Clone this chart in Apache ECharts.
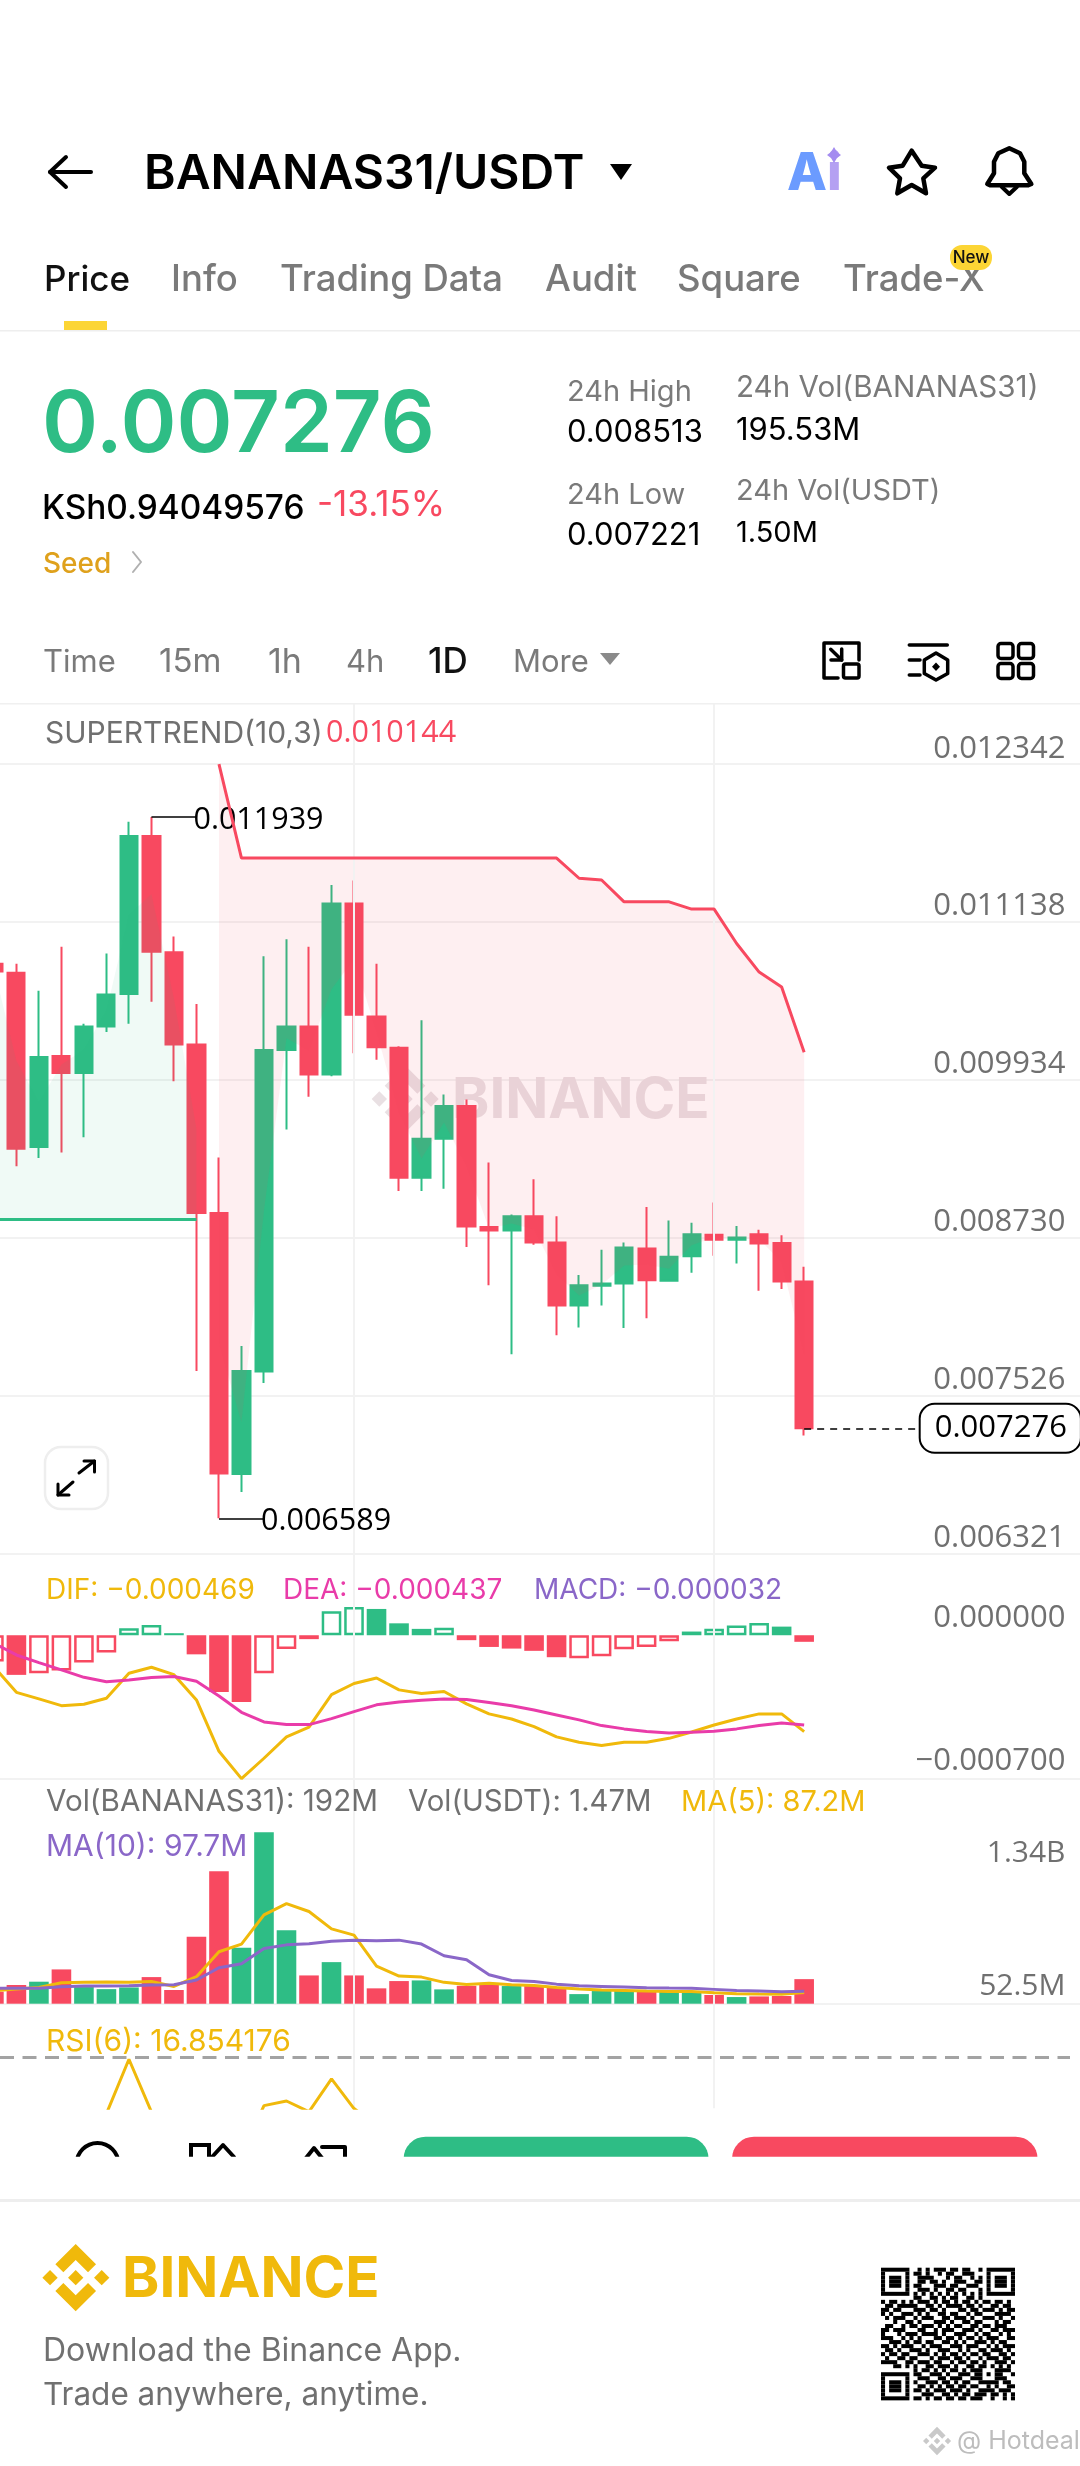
<!DOCTYPE html>
<html><head><meta charset="utf-8">
<style>html,body{margin:0;padding:0;background:#fff;width:1080px;height:2466px;overflow:hidden}#c{position:absolute;left:-18px;top:0;width:1108px;height:2466px}</style>
<script src="https://cdn.jsdelivr.net/npm/echarts@6/dist/echarts.min.js"></script>
</head><body><div id="c"></div>
<script>
const GREEN='#2EBD85', RED='#F84960', YEL='#F0B90B', PINK='#E93CA9', PUR='#8A67C8', GRAY='#707070', LINE='#F2F2F2';
const FAM='Inter', NUM='"Open Sans"';

// Daily slots: 36 visible candles plus empty room on the right
const categories=['D-36','D-35','D-34','D-33','D-32','D-31','D-30','D-29','D-28','D-27','D-26','D-25','D-24','D-23','D-22','D-21','D-20','D-19','D-18','D-17','D-16','D-15','D-14','D-13','D-12','D-11','D-10','D-9','D-8','D-7','D-6','D-5','D-4','D-3','D-2','D-1','D0','+1','+2','+3','+4','+5','+6','+7','+8','+9','+10','+11','+12'];

const openP=[0.010819,0.010752,0.009421,0.010116,0.009986,0.010342,0.010589,0.011794,0.010907,0.010204,0.008919,0.006928,0.007710,0.010162,0.010342,0.009974,0.011279,0.010417,0.010179,0.009187,0.009484,0.009735,0.008811,0.008785,0.008894,0.008693,0.008212,0.008363,0.008380,0.008647,0.008401,0.008589,0.008752,0.008714,0.008756,0.008689,0.008396];
const closeP=[0.010760,0.009409,0.010108,0.009986,0.010342,0.010585,0.011794,0.010911,0.010204,0.008919,0.006932,0.007714,0.010162,0.010342,0.009974,0.011279,0.010430,0.010183,0.009187,0.009484,0.009735,0.008815,0.008785,0.008894,0.008693,0.008212,0.008367,0.008380,0.008656,0.008405,0.008585,0.008756,0.008714,0.008731,0.008685,0.008396,0.007276];
const lowP=[0.010760,0.009275,0.009338,0.009380,0.009497,0.010300,0.010363,0.010530,0.009924,0.007714,0.006589,0.006790,0.007622,0.009555,0.009806,0.009961,0.010137,0.010087,0.009087,0.009087,0.009103,0.008660,0.008367,0.007840,0.008677,0.007986,0.008045,0.008212,0.008041,0.008116,0.008401,0.008463,0.008593,0.008534,0.008325,0.008338,0.007221];
const highP=[0.010819,0.010819,0.010614,0.010949,0.010363,0.010898,0.011903,0.011939,0.011028,0.010513,0.009342,0.007903,0.010877,0.011007,0.010949,0.011421,0.011455,0.010819,0.010191,0.010388,0.009823,0.009785,0.009304,0.008907,0.009175,0.008894,0.008446,0.008639,0.008693,0.008965,0.008861,0.008844,0.008999,0.008819,0.008790,0.008748,0.008509];

const supertrendDown=[null,null,null,null,null,null,null,null,null,null,0.012342,0.011626,0.011626,0.011626,0.011626,0.011626,0.011626,0.011626,0.011626,0.011626,0.011626,0.011626,0.011626,0.011626,0.011626,0.011626,0.011472,0.011459,0.011292,0.011292,0.011292,0.011237,0.011237,0.010974,0.010756,0.010643,0.010144];
const supertrendUp=[0.008869,0.008869,0.008869,0.008869,0.008869,0.008869,0.008869,0.008869,0.008869,0.008869];
const bodyMid=[0.010790,0.010080,0.009764,0.010051,0.010164,0.010463,0.011191,0.011352,0.010555,0.009561,0.007925,0.007321,0.008936,0.010252,0.010158,0.010626,0.010854,0.010300,0.009683,0.009335,0.009609,0.009275,0.008798,0.008839,0.008793,0.008452,0.008289,0.008371,0.008518,0.008526,0.008493,0.008672,0.008733,0.008722,0.008720,0.008542,0.007835];

const macdHist=[-0.000128,-0.000193,-0.000185,-0.000172,-0.000133,-0.000084,0.000034,0.000050,0.000010,-0.000093,-0.000276,-0.000325,-0.000185,-0.000067,-0.000019,0.000117,0.000138,0.000128,0.000058,0.000031,0.000037,-0.000024,-0.000057,-0.000065,-0.000076,-0.000107,-0.000112,-0.000102,-0.000068,-0.000057,-0.000029,0.000018,0.000031,0.000047,0.000060,0.000042,-0.000032];
const macdHollow=[1,0,1,1,1,1,1,1,0,0,0,0,1,1,0,1,1,0,0,0,1,0,0,0,0,0,1,1,1,1,1,0,1,1,1,0,0];
const dif=[-0.000154,-0.000278,-0.000310,-0.000343,-0.000336,-0.000307,-0.000185,-0.000156,-0.000192,-0.000315,-0.000565,-0.000698,-0.000599,-0.000495,-0.000447,-0.000289,-0.000235,-0.000208,-0.000266,-0.000284,-0.000274,-0.000334,-0.000383,-0.000408,-0.000445,-0.000495,-0.000521,-0.000537,-0.000521,-0.000521,-0.000502,-0.000471,-0.000437,-0.000408,-0.000383,-0.000383,-0.000469];
const dea=[-0.000039,-0.000096,-0.000133,-0.000169,-0.000205,-0.000226,-0.000218,-0.000206,-0.000201,-0.000224,-0.000296,-0.000375,-0.000422,-0.000435,-0.000435,-0.000406,-0.000372,-0.000339,-0.000325,-0.000317,-0.000310,-0.000313,-0.000328,-0.000343,-0.000364,-0.000388,-0.000412,-0.000440,-0.000456,-0.000469,-0.000476,-0.000472,-0.000468,-0.000456,-0.000440,-0.000427,-0.000437];

// Volume in millions
const volM=[94,146,172,268,130,114,127,208,107,523,1035,437,1340,575,221,325,221,120,177,182,112,140,146,138,138,127,75,99,101,94,94,99,68,52,57,60,192];
const ma5M=[101,114,127,164,167,169,167,174,135,211,406,466,695,783,721,585,536,294,216,208,167,151,159,148,143,127,114,107,104,99,96,96,86,78,75,73,87.2];
const ma10M=[120,120,120,133,138,138,140,146,148,185,281,312,432,460,468,489,497,492,497,466,375,343,226,182,174,153,140,135,130,125,122,120,112,104,99,94,97.7];

// Only the part above the panel's lower edge shows in the picture; the rest is estimated
const rsi6=[40,38,39,41,43,46.8,69.2,47.5,44,32,22,30,50.1,52,47.6,61.1,48.9,42,36,38,42,36,36,40,37,33,35,36,40,38,41,44,43,44,42,38,16.85];

const priceTicks=[0.012342,0.011138,0.009934,0.008730,0.007526,0.006321];
const macdTicks=[0,-0.0007];
const volTicks=[1340,52.5];

const qrRows=[
'111111100101011101101100101111111','100000101101001011001110001000001','101110100111100010110010101011101',
'101110100110110100111001101011101','101110101100011101100111001011101','100000100111010011011000101000001',
'111111101010101010101010101111111','000000001100110101100110100000000','101101010111010110101101011011010',
'011011111001101011110110100110110','110110001110110100011011011101011','101001110101001101100101100011110',
'010111001011100110111010011101001','000100110100011101001101100010110','011001011011101010110011011011100',
'110111000110010111001110100110111','100010111011110100111001011001010','111001010100011011010110101110011',
'001110101101100110101001110101100','110101110010111001110111001010111','011010011101001110010100110111010',
'101101100111010101101011011001101','010011011000101110110100101110110','111100110111011001011011010011101',
'000110101001101110100110110101010','000000001011010101101011100011110','111111101100111010011101101011001',
'100000100111001101110011100011100','101110101001110110101100111110110','101110100110101011011011001010011',
'101110101101011101110100111101110','100000100011100110101101110110101','111111101101011011011011100100101'];

/* ---------- page furniture helpers ---------- */
const OFF=18; // the canvas starts left of the window so the first candle can be cut by the edge
const G=[];
function T(x,y,text,size,fill,weight,align,z,fam){G.push({type:'text',x,y:y+3.5,silent:true,z:z==null?50:z,style:{text,fill,font:`${weight||400} ${size}px ${fam||FAM}`,textAlign:align||'left',textVerticalAlign:'middle'}});}
function PL(points,stroke,w,closed,z){G.push({type:closed?'polygon':'polyline',silent:true,z:z||50,shape:{points},style:{stroke,fill:closed?'rgba(0,0,0,0)':null,lineWidth:w,lineJoin:'round',lineCap:'round'}});}
function PG(points,fill,z){G.push({type:'polygon',silent:true,z:z||50,shape:{points},style:{fill}});}
function R(x,y,w,h,fill,r,z,stroke,lw){G.push({type:'rect',silent:true,z:z||50,shape:{x,y,width:w,height:h,r:r||0},style:{fill:fill||'rgba(0,0,0,0)',stroke:stroke||null,lineWidth:lw||0}});}
function logo(cx,cy,s,fill,z){
  const p=a=>a.map(q=>[cx+(q[0]-137)/3*s,cy+(q[1]-113)/3*s]);
  [[[137,12],[198,73],[174,97],[137,60],[100,97],[76,73]],[[137,214],[198,153],[174,129],[137,166],[100,129],[76,153]],
   [[37,113],[60,90],[83,113],[60,136]],[[192,113],[215,90],[238,113],[215,136]],[[114,113],[137,90],[160,113],[137,136]]]
   .forEach(a=>PG(p(a),fill,z));
}

// top bar
PL([[91,172],[50,172]],'#000',4); PL([[66,157],[50,172],[66,187]],'#000',4);
T(144,171.5,'BANANAS31/USDT',48,'#000',600);
PG([[610,164],[632,164],[621,180]],'#000');
T(787,170.5,'A',52,'#6B9BFF',800);
T(827,170.5,'i',52,'#B4A0F2',800);
PG([[834,147],[837,152],[841,155],[837,158],[834,163],[831,158],[827,155],[831,152]],'#A48CF0');
PL([[911.7,150.7],[921.7,165.7],[935,167.7],[923.3,178.3],[926,193.3],[911.7,185],[897.3,193.3],[900,178.3],[889,167.7],[902.7,165.7]],'#000',4.5,true);
PL([[987.3,184],[994,173.3],[994,161.7],[998.3,153.3],[1009.3,148.3],[1020,153.3],[1024.3,161.7],[1024.3,173.3],[1031.3,184],[1028.3,185.3],[990,185.3]],'#000',4.5,true);
PL([[1001.7,186.7],[1009.3,194],[1017,186.7]],'#000',4);

// tabs
T(44,277,'Price',35,'#111',500);
T(171,277,'Info',36.5,'#7A7A7A',500);
T(280,277,'Trading Data',36.5,'#7A7A7A',500);
T(545,277,'Audit',36.5,'#7A7A7A',500);
T(677,277,'Square',36.5,'#7A7A7A',500);
T(843,277,'Trade-X',36.5,'#7A7A7A',500);
R(950,245,42,25,'#FCD535',12);
T(971,254,'New',17,'#111',500,'center');
R(64,321,43,9,'#FCD535');
R(0,330,1080,1.5,'#EEEEEE');

// price block
T(42,423,'0.007276',85,GREEN,600);
T(42,505,'KSh0.94049576',33.4,'#000',500);
T(317,502,'-13.15%',35,RED,400);
T(43,561,'Seed',28,'#DFA11C',500);
PL([[133,552],[141,562],[133,572]],'#B0B0B0',2);
T(567,389,'24h High',29,'#7A7A7A');
T(567,429,'0.008513',31,'#000');
T(736,384.5,'24h Vol(BANANAS31)',29.6,'#7A7A7A');
T(736,427,'195.53M',31,'#000');
T(567,492,'24h Low',29,'#7A7A7A');
T(567,532,'0.007221',31,'#000');
T(736,487.5,'24h Vol(USDT)',29,'#7A7A7A');
T(736,530,'1.50M',29,'#000');

// interval row
T(43,659,'Time',31,'#7A7A7A');
T(159,659,'15m',33,'#7A7A7A');
T(268,659,'1h',34,'#7A7A7A');
T(346,659,'4h',31,'#7A7A7A');
T(428,659,'1D',35,'#111',500);
T(513,659,'More',31,'#7A7A7A');
PG([[600,653],[620,653],[610,665]],'#8A8A8A');
PL([[859,660],[859,643],[824,643],[824,678],[838,678]],'#000',3.5);
R(843.5,664,15.5,14,null,2,50,'#000',3.5);
PL([[830.7,649.3],[841.7,660]],'#000',3.5); PL([[841.7,649],[841.7,660],[831,660]],'#000',3.5);
PL([[909.3,645],[947.3,645]],'#000',3.5); PL([[909.3,660],[920,660]],'#000',3.5); PL([[909.3,675],[920,675]],'#000',3.5);
PL([[936,653],[947.7,660],[947.7,673.4],[936,680],[924.3,673.4],[924.3,660]],'#000',3.5,true);
PG([[936,662.5],[940,666.7],[936,671],[932,666.7]],'#000');
[[998,643.5],[1018.5,643.5],[998,663.5],[1018.5,663.5]].forEach(p=>R(p[0],p[1],15,15,null,3,50,'#000',3.5));
R(0,703,1080,1.5,'#F0F0F0');

// panel captions
T(45,730,'SUPERTREND(10,3)',30,GRAY);
T(326,730,'0.010144',30.5,RED,400,'left',50,NUM);
T(46,1587,'DIF: −0.000469',28,YEL);
T(283,1587,'DEA: −0.000437',28,PINK);
T(534,1587,'MACD: −0.000032',28,PUR);
T(46,1799,'Vol(BANANAS31): 192M',29.6,GRAY);
T(408,1799,'Vol(USDT): 1.47M',29.3,GRAY);
T(681,1799,'MA(5): 87.2M',29,YEL);
T(46,1843,'MA(10): 97.7M',30,PUR);
T(46,2038,'RSI(6): 16.854176',30,YEL);

// expand button
R(45,1447,63,62,'#fff',16,50,'#EEEEEE',2.5);
PL([[58,1495],[73,1482]],'#000',3); PL([[58,1484],[58,1495],[69,1495]],'#000',3);
PL([[79,1473],[94.5,1461]],'#000',3); PL([[84,1461],[94.5,1461],[94.5,1472]],'#000',3);

// cropped action row
G.push({type:'circle',silent:true,z:50,shape:{cx:97.5,cy:2164,r:21},style:{stroke:'#000',lineWidth:4,fill:'rgba(0,0,0,0)'}});
R(191,2145,18,20,null,0,50,'#000',4);
PL([[212,2157],[223,2145],[234,2157]],'#000',4);
PL([[306,2158],[314,2148],[322,2158]],'#000',4);
PL([[322,2147],[345,2147],[345,2158]],'#000',4);
R(403.6,2136.7,305,40,GREEN,[22,22,0,0]);
R(732,2136.7,305.6,40,RED,[22,22,0,0]);
R(0,2156.7,1080,42,'#fff',0,60);

// footer
R(0,2199,1080,3,'#EEEEEE',0,61);
logo(75.7,2277.7,1,YEL);
T(122,2277,'BINANCE',56.5,YEL,700);
T(43,2348,'Download the Binance App.',32,GRAY);
T(43,2392,'Trade anywhere, anytime.',31.5,GRAY);
qrRows.forEach((row,r)=>{let c=0;while(c<row.length){if(row[c]==='1'){let e=c;while(row[e+1]==='1')e++;R(881+c*4.06,2267.7+r*4.02,(e-c+1)*4.06,4.02,'#000');c=e+1;}else c++;}});
logo(937,2441,0.42,'#C9C9C9');
T(957,2438,'@ Hotdeal',25,'#BDBDBD');

// watermark sits behind the candles
logo(405,1099,1,'#E9E0E3',1);
T(452,1098,'BINANCE',56.5,'#E9E0E3',700,'left',1);

/* ---------- chart ---------- */
const L=0.65, W=1102.84;
const grids=[
 {left:L,width:W,top:704,height:1404.3},     // vertical guides
 {left:L,width:W,top:764.2,height:789.3},    // price
 {left:L,width:W,top:1553.5,height:225.5},   // macd
 {left:L,width:W,top:1832.3,height:171.4},   // volume
 {left:L,width:W,top:2003.7,height:104.6}    // rsi
];
const xAxis=grids.map((g,i)=>({type:'category',gridIndex:i,data:categories,boundaryGap:true,show:i===2||i===3,
  axisLine:{show:true,onZero:false,lineStyle:{color:LINE,width:2}},axisTick:{show:false},axisLabel:{show:false},splitLine:{show:false}}));
const tickLabel={inside:true,margin:20,color:GRAY,fontFamily:NUM,fontSize:31,verticalAlign:'bottom'};
const yAxis=[
 {gridIndex:0,type:'value',min:0,max:1,show:false},
 {gridIndex:1,type:'value',position:'right',min:0.006321,max:0.012342,scale:true,axisLine:{show:false},
  axisTick:{show:false,customValues:priceTicks},splitLine:{show:true,lineStyle:{color:LINE,width:2}},
  axisLabel:{...tickLabel,customValues:priceTicks,formatter:v=>v.toFixed(6)}},
 {gridIndex:2,type:'value',position:'right',min:-0.0007,max:0.000398,axisLine:{show:false},
  axisTick:{show:false,customValues:macdTicks},splitLine:{show:false},
  axisLabel:{...tickLabel,padding:[0,0,2,0],customValues:macdTicks,formatter:v=>(v<0?'−':'')+Math.abs(v).toFixed(6)}},
 {gridIndex:3,type:'value',position:'right',min:0,max:1340,axisLine:{show:false},
  axisTick:{show:false,customValues:volTicks},splitLine:{show:false},
  axisLabel:{inside:true,margin:20,customValues:volTicks,verticalAlign:'middle',
   formatter:v=>v>=1000?'{a|'+(v/1000).toFixed(2)+'B}':'{b|'+v.toFixed(1)+'M}',
   rich:{a:{color:GRAY,fontFamily:NUM,fontSize:30,padding:[42,0,0,0]},b:{color:GRAY,fontFamily:NUM,fontSize:30,padding:[0,0,22,0]}}}},
 {gridIndex:4,type:'value',min:49,max:92.06,show:false}
];
const candleData=openP.map((o,i)=>[o,closeP[i],lowP[i],highP[i]]);
const isUp=i=>closeP[i]>=openP[i];
const lastIdx=openP.length-1;
const noSym={showSymbol:false,symbol:'none',silent:true};
const peakLabel={show:true,position:'end',distance:-3,color:'#000',fontFamily:NUM,fontSize:30.5,offset:[0,3]};
const series=[
 {type:'line',name:'guides',xAxisIndex:0,yAxisIndex:0,z:1,...noSym,data:categories.map(()=>null),
  markLine:{silent:true,symbol:['none','none'],label:{show:false},lineStyle:{color:LINE,width:2,type:'solid'},data:[{xAxis:16},{xAxis:32}]}},
 {type:'candlestick',name:'price',xAxisIndex:1,yAxisIndex:1,z:3,silent:true,barWidth:17.6,data:candleData,
  itemStyle:{color:GREEN,color0:RED,borderColor:GREEN,borderColor0:RED,borderWidth:2},
  markLine:{silent:true,symbol:['none','none'],animation:false,data:[
    [{coord:[7,highP[7]],lineStyle:{color:'#000',width:1.5,type:'solid'},label:{...peakLabel,formatter:highP[7].toFixed(6)}},{coord:[9,highP[7]]}],
    [{coord:[10,lowP[10]],lineStyle:{color:'#000',width:1.5,type:'solid'},label:{...peakLabel,formatter:lowP[10].toFixed(6)}},{coord:[12,lowP[10]]}],
    [{coord:[lastIdx,closeP[lastIdx]],lineStyle:{color:'#000',width:1.5,type:[7,6]},label:{show:true,position:'end',distance:4,color:'#000',fontFamily:NUM,fontSize:31,formatter:closeP[lastIdx].toFixed(6),backgroundColor:'#fff',borderColor:'#000',borderWidth:2,borderRadius:14,padding:[8,13,8,14]}},{coord:[lastIdx+5,closeP[lastIdx]]}]
  ]}},
 // green band: flat support up to the body midpoints
 {type:'line',xAxisIndex:1,yAxisIndex:1,z:4,...noSym,stack:'up',lineStyle:{opacity:0},data:supertrendUp},
 {type:'line',xAxisIndex:1,yAxisIndex:1,z:4,...noSym,stack:'up',lineStyle:{opacity:0},areaStyle:{color:'rgba(46,189,133,0.07)',opacity:1},
  data:supertrendUp.map((v,i)=>bodyMid[i]-v)},
 // red band: body midpoints up to the resistance line
 {type:'line',xAxisIndex:1,yAxisIndex:1,z:4,...noSym,stack:'down',lineStyle:{opacity:0},data:bodyMid.map((v,i)=>supertrendDown[i]==null?null:v)},
 {type:'line',xAxisIndex:1,yAxisIndex:1,z:4,...noSym,stack:'down',lineStyle:{opacity:0},areaStyle:{color:'rgba(248,73,96,0.085)',opacity:1},
  data:supertrendDown.map((v,i)=>v==null?null:v-bodyMid[i])},
 {type:'line',xAxisIndex:1,yAxisIndex:1,z:5,...noSym,data:supertrendUp,lineStyle:{color:GREEN,width:3}},
 {type:'line',xAxisIndex:1,yAxisIndex:1,z:5,...noSym,data:supertrendDown,lineStyle:{color:RED,width:3}},
 // MACD
 {type:'bar',xAxisIndex:2,yAxisIndex:2,z:3,silent:true,barWidth:19.6,data:macdHist.map((v,i)=>{
   const c=v>=0?GREEN:RED;
   return {value:v,itemStyle:macdHollow[i]?{color:'#fff',borderColor:c,borderWidth:2.5}:{color:c}};
  })},
 {type:'line',xAxisIndex:2,yAxisIndex:2,z:5,...noSym,data:dif,lineStyle:{color:YEL,width:3}},
 {type:'line',xAxisIndex:2,yAxisIndex:2,z:6,...noSym,data:dea,lineStyle:{color:PINK,width:3}},
 // Volume
 {type:'bar',xAxisIndex:3,yAxisIndex:3,z:3,silent:true,barWidth:19.6,data:volM.map((v,i)=>({value:v,itemStyle:{color:isUp(i)?GREEN:RED}}))},
 {type:'line',xAxisIndex:3,yAxisIndex:3,z:5,...noSym,data:ma5M,lineStyle:{color:YEL,width:3}},
 {type:'line',xAxisIndex:3,yAxisIndex:3,z:6,...noSym,data:ma10M,lineStyle:{color:PUR,width:3}},
 // RSI
 {type:'line',xAxisIndex:4,yAxisIndex:4,z:5,...noSym,data:rsi6,lineStyle:{color:YEL,width:3},
  markLine:{silent:true,symbol:['none','none'],label:{show:false},lineStyle:{color:'#A3A3A3',width:3,type:[14,8.5]},data:[[{x:OFF,yAxis:70},{x:OFF+1070,yAxis:70}]]}}
];
const chart=echarts.init(document.getElementById('c'),null,{renderer:'canvas',width:1108,height:2466});
chart.setOption({animation:false,backgroundColor:'#fff',textStyle:{fontFamily:FAM},grid:grids,xAxis,yAxis,series,
  graphic:{elements:[{type:'group',x:OFF,y:0,silent:true,children:G}]}});
</script></body></html>
